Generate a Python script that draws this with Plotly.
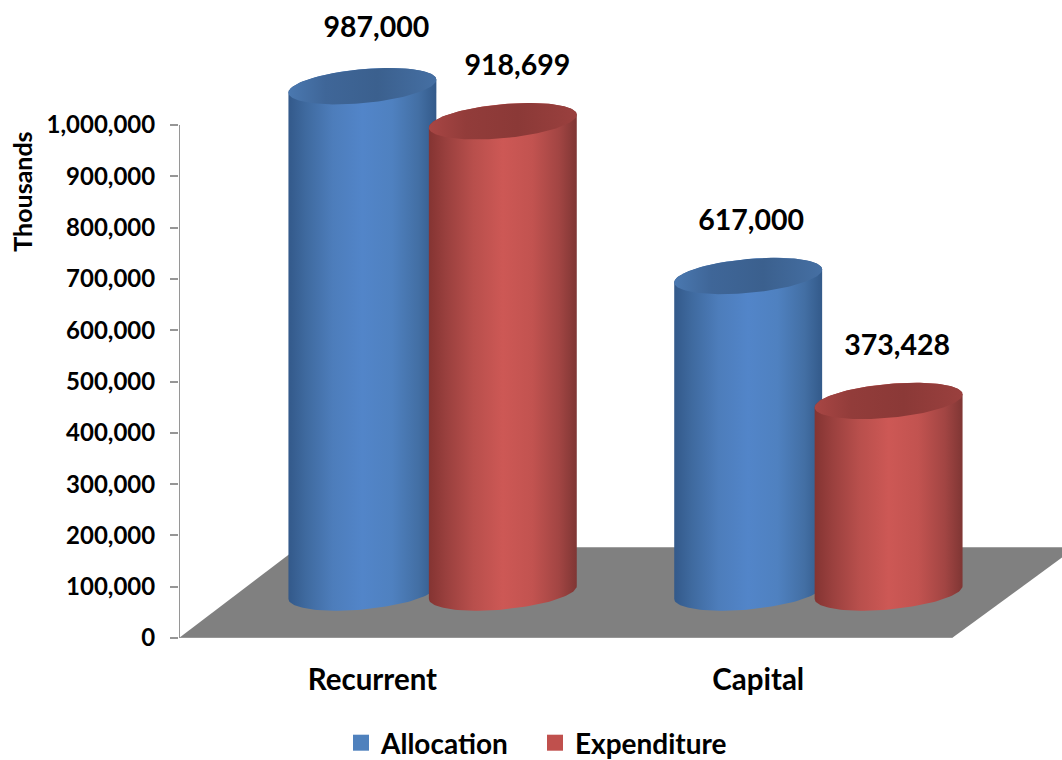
import numpy as np
import plotly.graph_objects as go

categories = ["Recurrent", "Capital"]
allocation = [987000, 617000]
expenditure = [918699, 373428]
y_ticks = [0, 100000, 200000, 300000, 400000, 500000, 600000, 700000, 800000, 900000, 1000000]

# page geometry of the plot area
W, H = 1062, 760
AX_L, AX_R, AX_T, AX_B = 178.5, 952.0, 125.0, 637.7
CAT0_PX, CAT_STEP_PX = 372.0, 386.0
PX_Y = (AX_B - AX_T) / 1000000.0
px_x = lambda p: (p - CAT0_PX) / CAT_STEP_PX
len_x = lambda p: p / CAT_STEP_PX
len_y = lambda p: p / PX_Y

# cylinder drawing style, all in pixels
BASE_LIFT = 45.5
RADIUS = 74.0
TILT = 6.5
MINOR = 17.0
ALLOC_SHIFT = -10.0
EXP_SHIFT = 130.5

BLUE_BODY = [[0, "#33598a"], [0.12, "#3f6a9f"], [0.3, "#4d7dbb"], [0.5, "#5285c9"], [0.7, "#4f81c0"],
             [0.88, "#436fa4"], [1, "#335a8a"]]
RED_BODY = [[0, "#843432"], [0.12, "#9a403e"], [0.3, "#b84f4c"], [0.5, "#cd5855"], [0.7, "#c25350"],
            [0.88, "#a24543"], [1, "#7f3634"]]
BLUE_TOP = [[0, "#4a78b0"], [0.25, "#3f6698"], [0.6, "#3b608e"], [1, "#456fa3"]]
RED_TOP = [[0, "#a84644"], [0.25, "#923c3a"], [0.6, "#8b3937"], [1, "#9a403e"]]
LEGEND_BLUE, LEGEND_RED = "#4f81bd", "#c0504d"
AXIS_COLOR = "#969696"

fig = go.Figure()

# floor of the 3-D plot
floor_px = [(178.5, 637.7), (952.0, 637.7), (1076.0, 547.0), (298.0, 547.0), (178.5, 637.7)]
fig.add_trace(go.Scatter(
    x=[px_x(p[0]) for p in floor_px],
    y=[(AX_B - p[1]) / PX_Y for p in floor_px],
    mode="lines", fill="toself", fillcolor="#808080", line=dict(width=0),
    hoverinfo="skip", showlegend=False, cliponaxis=False))

# axis lines, which stop where the reference's stop
fig.add_trace(go.Scatter(
    x=[px_x(AX_L), px_x(AX_L), px_x(AX_R)], y=[max(y_ticks), 0, 0], mode="lines",
    line=dict(color=AXIS_COLOR, width=2), hoverinfo="skip", showlegend=False, cliponaxis=False))


def cylinder(idx, value, shift, body, top):
    cx = idx + len_x(shift)
    a, k, b = len_x(RADIUS), len_y(TILT), len_y(MINOR)
    base = len_y(BASE_LIFT)
    t1 = np.linspace(np.pi, 2 * np.pi, 70)
    t2 = np.linspace(0, np.pi, 70)
    xs = np.concatenate([cx + a * np.cos(t1), cx + a * np.cos(t2)])
    ys = np.concatenate([base + k * np.cos(t1) + b * np.sin(t1),
                         base + value + k * np.cos(t2) + b * np.sin(t2)])
    fig.add_trace(go.Scatter(x=xs, y=ys, mode="lines", fill="toself", line=dict(width=0),
                             fillgradient=dict(type="horizontal", colorscale=body),
                             hoverinfo="skip", showlegend=False, cliponaxis=False))
    t = np.linspace(0, 2 * np.pi, 140)
    fig.add_trace(go.Scatter(x=cx + a * np.cos(t), y=base + value + k * np.cos(t) + b * np.sin(t),
                             mode="lines", fill="toself", line=dict(width=0),
                             fillgradient=dict(type="horizontal", colorscale=top),
                             hoverinfo="skip", showlegend=False, cliponaxis=False))


for i in range(len(categories)):
    cylinder(i, allocation[i], ALLOC_SHIFT, BLUE_BODY, BLUE_TOP)
    cylinder(i, expenditure[i], EXP_SHIFT, RED_BODY, RED_TOP)

# value labels, placed above each cylinder as in the reference
label_dx = {"a": [14, 3], "e": [14.5, 8.5]}
label_lift = {"a": [102, 98.5], "e": [98.5, 98.5]}
label_x, label_y, label_t = [], [], []
for i in range(len(categories)):
    label_x += [i + len_x(ALLOC_SHIFT + label_dx["a"][i]), i + len_x(EXP_SHIFT + label_dx["e"][i])]
    label_y += [allocation[i] + len_y(label_lift["a"][i]), expenditure[i] + len_y(label_lift["e"][i])]
    label_t += [f"{allocation[i]:,}", f"{expenditure[i]:,}"]
fig.add_trace(go.Scatter(x=label_x, y=label_y, text=label_t, mode="text", textposition="middle center",
                         textfont=dict(family="Lato", size=28.5, color="#000000", weight="bold"),
                         hoverinfo="skip", showlegend=False, cliponaxis=False))

# legend keys
for name, color in [("Allocation", LEGEND_BLUE), ("Expenditure", LEGEND_RED)]:
    fig.add_trace(go.Scatter(x=[None], y=[None], mode="markers", name=name,
                             marker=dict(symbol="square", size=18, color=color)))

fig.add_annotation(text="<b>Thousands</b>", xref="paper", yref="paper",
                   x=(22 - AX_L) / (W - AX_L), y=(AX_B - 192) / AX_B,
                   textangle=-90, showarrow=False, xanchor="center", yanchor="middle",
                   font=dict(family="Lato", size=25, color="#000000"))

fig.update_layout(
    width=W, height=H, autosize=False,
    margin=dict(l=AX_L, r=0, t=0, b=H - AX_B, pad=0),
    paper_bgcolor="#ffffff", plot_bgcolor="rgba(0,0,0,0)",
    font=dict(family="Lato", color="#000000"),
    xaxis=dict(range=[px_x(AX_L), px_x(W)],
               tickmode="array", tickvals=list(range(len(categories))), ticktext=categories,
               ticks="", showgrid=False, zeroline=False, showline=False,
               ticklabelstandoff=21,
               tickfont=dict(family="Lato", size=29.5, color="#000000", weight="bold")),
    yaxis=dict(range=[0, AX_B / PX_Y],
               tickmode="array", tickvals=y_ticks, tickformat=",d",
               ticks="outside", ticklen=8, tickwidth=2, tickcolor=AXIS_COLOR,
               showgrid=False, zeroline=False, showline=False,
               ticklabelstandoff=10,
               tickfont=dict(family="Lato", size=24, color="#000000", weight="bold")),
    showlegend=True,
    legend=dict(orientation="h", xref="container", yref="container", x=341 / W, xanchor="left",
                y=1 - 743 / H, yanchor="middle", entrywidth=149, entrywidthmode="pixels",
                font=dict(family="Lato", size=28, color="#000000", weight="bold"),
                bgcolor="rgba(0,0,0,0)", itemclick=False, itemdoubleclick=False),
)

fig.write_html("out.html", config=dict(displayModeBar=False),
               post_script="document.body.style.margin='0';")
